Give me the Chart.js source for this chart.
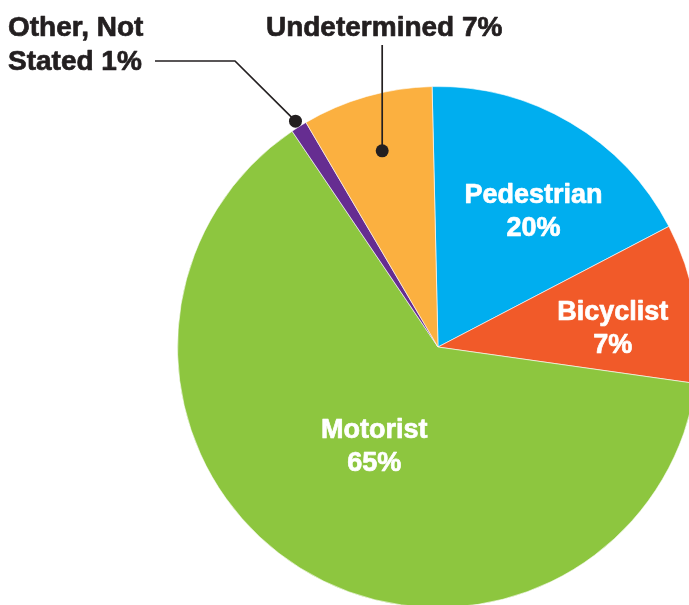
<!DOCTYPE html>
<html>
<head>
<meta charset="utf-8">
<script src="https://cdn.jsdelivr.net/npm/chart.js@4"></script>
<style>
  html, body { margin: 0; padding: 0; background: #fff; overflow: hidden; }
  #wrap { position: absolute; left: 0; top: 0; width: 720px; height: 620px; }
</style>
</head>
<body>
<div id="wrap"><canvas id="pieChart" width="720" height="620"></canvas></div>
<script>
// slice order, clockwise from 12 o'clock
const categories = ['Pedestrian', 'Bicyclist', 'Motorist', 'Other, Not Stated', 'Undetermined'];
const shares = [17.7, 9.9, 63.3, 1.0, 8.1];
const shareLabels = ['20%', '7%', '65%', '1%', '7%'];
const sliceColors = ['#00AEEF', '#F15A29', '#8DC63F', '#662D91', '#FBB040'];

const DARK = '#231F20';
const FONT = 'bold 27px "Liberation Sans", Arial, sans-serif';
const OUT_FONT = 'bold 28px "Liberation Sans", Arial, sans-serif';

// where the white labels sit inside their slices (radius fraction, angle nudge in degrees)
const inside = {
  0: { rf: 0.64, nudge: 4.4, lines: ['Pedestrian', shareLabels[0]] },
  1: { rf: 0.675, nudge: 3.3, lines: ['Bicyclist', shareLabels[1]] },
  2: { rf: 0.45, nudge: 0.9, lines: ['Motorist', shareLabels[2]] }
};

// heavy text: fill plus a thin stroke of the same colour
function heavyText(ctx, txt, x, y) {
  ctx.fillText(txt, x, y);
  ctx.strokeText(txt, x, y);
}

const sliceLabels = {
  id: 'sliceLabels',
  afterDraw(chart) {
    const ctx = chart.ctx;
    const arcs = chart.getDatasetMeta(0).data;
    ctx.save();
    ctx.lineJoin = 'round';

    // labels inside the big slices
    ctx.fillStyle = '#fff';
    ctx.strokeStyle = '#fff';
    ctx.lineWidth = 0.7;
    ctx.font = FONT;
    ctx.textAlign = 'center';
    ctx.textBaseline = 'alphabetic';
    Object.keys(inside).forEach(i => {
      const a = arcs[i];
      const cfg = inside[i];
      const ang = (a.startAngle + a.endAngle) / 2 + cfg.nudge * Math.PI / 180;
      const x = a.x + Math.cos(ang) * a.outerRadius * cfg.rf;
      const y = a.y + Math.sin(ang) * a.outerRadius * cfg.rf;
      heavyText(ctx, cfg.lines[0], x, y - 7);
      heavyText(ctx, cfg.lines[1], x, y + 26);
    });

    ctx.strokeStyle = DARK;
    ctx.fillStyle = DARK;
    ctx.lineWidth = 1.7;

    // Undetermined: dot inside slice, straight line up to the label
    const u = arcs[4];
    const uAng = (u.startAngle + u.endAngle) / 2;
    const ux = u.x + Math.cos(uAng) * u.outerRadius * 0.783;
    const uy = u.y + Math.sin(uAng) * u.outerRadius * 0.783;
    ctx.beginPath();
    ctx.moveTo(ux, uy);
    ctx.lineTo(ux, 45);
    ctx.stroke();
    ctx.beginPath();
    ctx.arc(ux, uy, 6.5, 0, Math.PI * 2);
    ctx.fill();

    // Other, Not Stated: dot just outside the rim, elbow line to the label
    const o = arcs[3];
    const oAng = (o.startAngle + o.endAngle) / 2;
    const ox = o.x + Math.cos(oAng) * o.outerRadius * 1.025;
    const oy = o.y + Math.sin(oAng) * o.outerRadius * 1.025;
    ctx.beginPath();
    ctx.moveTo(ox, oy);
    ctx.lineTo(235, 61);
    ctx.lineTo(155, 61);
    ctx.stroke();
    ctx.beginPath();
    ctx.arc(ox, oy, 6.5, 0, Math.PI * 2);
    ctx.fill();

    ctx.lineWidth = 0.7;
    ctx.font = OUT_FONT;
    ctx.textAlign = 'center';
    heavyText(ctx, categories[4] + ' ' + shareLabels[4], ux + 2, 36);
    ctx.textAlign = 'left';
    heavyText(ctx, 'Other, Not', 8, 36);
    heavyText(ctx, 'Stated ' + shareLabels[3], 8, 70);

    ctx.restore();
  }
};

new Chart(document.getElementById('pieChart'), {
  type: 'pie',
  data: {
    labels: categories,
    datasets: [{
      data: shares,
      backgroundColor: sliceColors,
      borderColor: 'rgba(255,255,255,0.6)',
      borderWidth: 1
    }]
  },
  options: {
    responsive: false,
    animation: false,
    rotation: -1.3,
    layout: { padding: { left: 177, top: 86, right: 21, bottom: 12 } },
    plugins: {
      legend: { display: false },
      tooltip: { enabled: false }
    }
  },
  plugins: [sliceLabels]
});
</script>
</body>
</html>
